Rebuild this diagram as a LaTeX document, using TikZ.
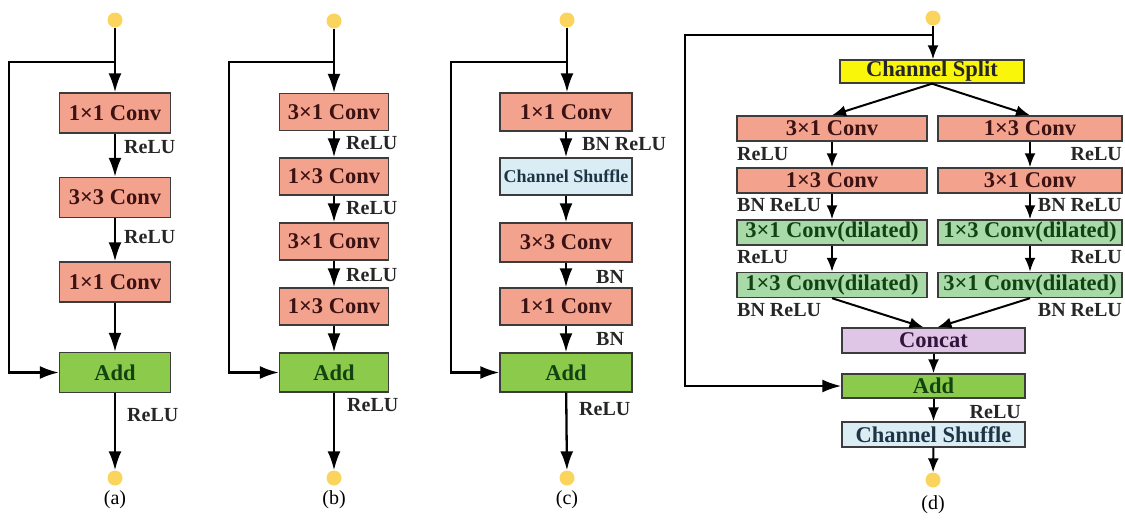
\documentclass[tikz,border=0pt]{standalone}
\usepackage{fontspec}
\setmainfont{Liberation Serif}
\usetikzlibrary{arrows.meta,positioning}

\definecolor{convred}{RGB}{243,162,142}
\definecolor{convtext}{RGB}{60,18,18}
\definecolor{addgreen}{RGB}{140,202,76}
\definecolor{addtext}{RGB}{18,66,18}
\definecolor{dilgreen}{RGB}{168,218,168}
\definecolor{shufblue}{RGB}{218,236,244}
\definecolor{shuftext}{RGB}{28,52,68}
\definecolor{catpink}{RGB}{224,198,230}
\definecolor{cattext}{RGB}{50,20,60}
\definecolor{splityel}{RGB}{250,246,10}
\definecolor{dotyel}{RGB}{250,212,92}
\definecolor{edge}{RGB}{60,60,60}

\tikzset{
  box/.style={draw=edge,line width=1.4pt,inner sep=0pt,font=\bfseries\fontsize{22.5}{22.5}\selectfont},
  conv/.style={box,fill=convred,text=convtext},
  addbox/.style={box,fill=addgreen,text=addtext},
  dilbox/.style={box,fill=dilgreen,text=addtext},
  shufbox/.style={box,fill=shufblue,text=shuftext},
  catbox/.style={box,fill=catpink,text=cattext},
  splitbox/.style={box,fill=splityel,text=black!85},
  dot/.style={circle,fill=dotyel,minimum size=15pt,inner sep=0pt},
  lbl/.style={inner sep=0pt,text=black!85,font=\bfseries\fontsize{20}{20}\selectfont},
  subcap/.style={inner sep=0pt,font=\fontsize{20}{20}\selectfont},
  arr/.style={line width=2.3pt,-{Latex[length=19pt,width=13pt]}},
  sarr/.style={line width=2pt,-{Latex[length=14pt,width=11pt]}},
  pa/.style={minimum width=111pt,minimum height=40pt},
  pb/.style={minimum width=109pt,minimum height=37pt},
  pc/.style={minimum width=132pt,minimum height=38pt},
  pd/.style={minimum width=190pt,minimum height=25pt},
  pe/.style={minimum width=184pt,minimum height=25pt}
}

\begin{document}
\begin{tikzpicture}[x=1pt,y=-1pt]
\useasboundingbox (0,0) rectangle (1125,522);

% (a)
\node[dot] (inA) at (115,20) {};
\node[conv,pa] (a1) at (115,113) {1×1 Conv};
\node[conv,pa] (a2) at (115,197.5) {3×3 Conv};
\node[conv,pa] (a3) at (115,282) {1×1 Conv};
\node[addbox,pa] (addA) at (115,372.5) {Add};
\node[dot] (outA) at (115,478) {};
\node[subcap] (capA) at (115,500) {(a)};
\node[lbl,anchor=west] (la1) at (124,147) {ReLU};
\node[lbl,anchor=west] (la2) at (124,237) {ReLU};
\node[lbl,anchor=west] (la3) at (127,415) {ReLU};
\coordinate (tapA) at (115,62);
\coordinate (cornA) at (9,62);
\draw[arr] (inA) -- (a1);
\draw[arr] (a1) -- (a2);
\draw[arr] (a2) -- (a3);
\draw[arr] (a3) -- (addA);
\draw[arr] (addA) -- (outA);
\draw[arr] (tapA) -- (cornA) |- (addA.west);

% (b)
\node[dot] (inB) at (334,21) {};
\node[conv,pb] (b1) at (334,112) {3×1 Conv};
\node[conv,pb] (b2) at (334,176.5) {1×3 Conv};
\node[conv,pb] (b3) at (334,241.5) {3×1 Conv};
\node[conv,pb] (b4) at (334,306.5) {1×3 Conv};
\node[addbox,pb,minimum height=39pt] (addB) at (334,372.5) {Add};
\node[dot] (outB) at (334,478) {};
\node[subcap] (capB) at (334,500) {(b)};
\node[lbl,anchor=west] (lb1) at (346,143) {ReLU};
\node[lbl,anchor=west] (lb2) at (346,208) {ReLU};
\node[lbl,anchor=west] (lb3) at (346,275) {ReLU};
\node[lbl,anchor=west] (lb4) at (347,405) {ReLU};
\coordinate (tapB) at (334,62);
\coordinate (cornB) at (229,62);
\draw[arr] (inB) -- (b1);
\draw[arr] (b1) -- (b2);
\draw[arr] (b2) -- (b3);
\draw[arr] (b3) -- (b4);
\draw[arr] (b4) -- (addB);
\draw[arr] (addB) -- (outB);
\draw[arr] (tapB) -- (cornB) |- (addB.west);

% (c)
\node[dot] (inC) at (567,20) {};
\node[conv,pc] (c1) at (566,112) {1×1 Conv};
\node[shufbox,pc,minimum height=37pt,font=\bfseries\fontsize{18}{18}\selectfont] (c2) at (566,176.5) {Channel Shuffle};
\node[conv,pc,minimum height=39pt] (c3) at (566,242.5) {3×3 Conv};
\node[conv,pc,minimum height=37pt] (c4) at (566,306.5) {1×1 Conv};
\node[addbox,pc,minimum height=39pt] (addC) at (566,372.5) {Add};
\node[dot] (outC) at (567,478) {};
\node[subcap] (capC) at (567,500) {(c)};
\node[lbl,anchor=west] (lc1) at (582,144) {BN ReLU};
\node[lbl,anchor=west] (lc2) at (596,277) {BN};
\node[lbl,anchor=west] (lc3) at (596,339) {BN};
\node[lbl,anchor=west] (lc4) at (579,409) {ReLU};
\coordinate (tapC) at (566,62);
\coordinate (cornC) at (451,62);
\draw[arr] (inC) -- (inC |- c1.north);
\draw[arr] (c1) -- (c2);
\draw[arr] (c2) -- (c3);
\draw[arr] (c3) -- (c4);
\draw[arr] (c4) -- (addC);
\draw[arr] (addC) -- (outC);
\draw[arr] (tapC) -- (cornC) |- (addC.west);

% (d)
\node[dot] (inD) at (933,18) {};
\node[splitbox,minimum width=184pt,minimum height=23pt] (split) at (932,71.5) {Channel Split};
\node[conv,pd] (l1) at (832,128.5) {3×1 Conv};
\node[conv,pd] (l2) at (832,180.5) {1×3 Conv};
\node[dilbox,pd] (l3) at (832,232.5) {3×1 Conv(dilated)};
\node[dilbox,pd] (l4) at (832,285) {1×3 Conv(dilated)};
\node[conv,pe] (r1) at (1030,128.5) {1×3 Conv};
\node[conv,pe] (r2) at (1030,180.5) {3×1 Conv};
\node[dilbox,pe] (r3) at (1030,232.5) {1×3 Conv(dilated)};
\node[dilbox,pe] (r4) at (1030,285) {3×1 Conv(dilated)};
\node[catbox,minimum width=183pt,minimum height=25pt] (cat) at (933.5,340.5) {Concat};
\node[addbox,minimum width=183pt,minimum height=24pt] (addD) at (933.5,386) {Add};
\node[shufbox,minimum width=183pt,minimum height=25pt] (shufD) at (933.5,434.5) {Channel Shuffle};
\node[dot] (outD) at (933,480) {};
\node[subcap] (capD) at (933,505) {(d)};
\node[lbl,anchor=west] (ld1) at (737,154) {ReLU};
\node[lbl,anchor=west] (ld2) at (737,205) {BN ReLU};
\node[lbl,anchor=west] (ld3) at (737,257) {ReLU};
\node[lbl,anchor=west] (ld4) at (737,310) {BN ReLU};
\node[lbl,anchor=east] (rd1) at (1122,154) {ReLU};
\node[lbl,anchor=east] (rd2) at (1122,205) {BN ReLU};
\node[lbl,anchor=east] (rd3) at (1122,257) {ReLU};
\node[lbl,anchor=east] (rd4) at (1122,310) {BN ReLU};
\node[lbl,anchor=east] (ldd) at (1021,412) {ReLU};
\coordinate (tapD) at (933,35);
\coordinate (cornD) at (685,35);
\draw[sarr] (inD) -- (inD |- split.north);
\draw[sarr] (split.south) -- (l1.north);
\draw[sarr] (split.south) -- (r1.north);
\draw[sarr] (l1) -- (l2);
\draw[sarr] (l2) -- (l3);
\draw[sarr] (l3) -- (l4);
\draw[sarr] (r1) -- (r2);
\draw[sarr] (r2) -- (r3);
\draw[sarr] (r3) -- (r4);
\draw[sarr] (l4.south) -- ([xshift=-10pt]cat.north);
\draw[sarr] (r4.south) -- ([xshift=4pt]cat.north);
\draw[sarr] (cat) -- (addD);
\draw[sarr] (addD) -- (shufD);
\draw[sarr] (shufD) -- (outD);
\draw[arr] (tapD) -- (cornD) |- (addD.west);
\end{tikzpicture}
\end{document}
